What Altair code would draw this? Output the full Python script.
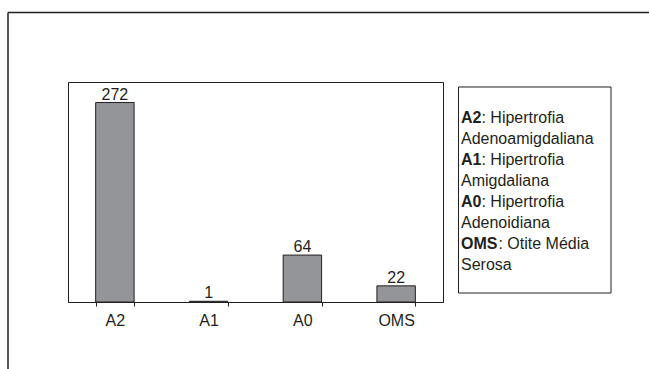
import altair as alt
import pandas as pd

# ---- data ----
categories = ["A2", "A1", "A0", "OMS"]
counts = [272, 1, 64, 22]

legend_codes = ["A2", "A1", "A0", "OMS"]
legend_first = [": Hipertrofia", ": Hipertrofia", ": Hipertrofia", ": Otite Média"]
legend_second = ["Adenoamigdaliana", "Amigdaliana", "Adenoidiana", "Serosa"]

# ---- layout constants (pixels, relative to plot area) ----
FONT = "Liberation Sans"
FS = 16
INK = "#231f20"
W, H = 375, 220
PAD = {"left": 68, "top": 82, "right": 649 - 68 - W, "bottom": 369 - 82 - H}

# Approximate Arial bold advance widths (em) for offsetting the normal text
BOLD_W = {"A": 0.722, "0": 0.556, "1": 0.556, "2": 0.556, "O": 0.778, "M": 0.833, "S": 0.667}


def bold_width(s):
    return sum(BOLD_W.get(c, 0.6) for c in s) * FS


bars_df = pd.DataFrame({"cat": categories, "n": counts})

rows = []
lx = 393
for i, (code, first, second) in enumerate(zip(legend_codes, legend_first, legend_second)):
    rows.append({"line": 2 * i, "txt": code, "bold": True, "xoff": 0})
    rows.append({"line": 2 * i, "txt": first, "bold": False,
                 "xoff": bold_width(code) + (1 if len(code) > 2 else 0)})
    rows.append({"line": 2 * i + 1, "txt": second, "bold": False, "xoff": 0})
leg_df = pd.DataFrame(rows)

xenc = alt.X(
    "cat:N",
    sort=categories,
    title=None,
    scale=alt.Scale(paddingInner=0.59, paddingOuter=0.295),
    axis=alt.Axis(labelAngle=0, labelFont=FONT, labelFontSize=FS, labelColor=INK,
                  tickBand="extent", tickSize=4, tickColor=INK, domainColor=INK,
                  labelPadding=6, grid=False),
)
yenc = alt.Y("n:Q", scale=alt.Scale(domain=[0, 300], nice=False), axis=None)

bars = alt.Chart(bars_df).mark_bar(
    fill="#939598", stroke=INK, strokeWidth=1
).encode(x=xenc, y=yenc)

labels = alt.Chart(bars_df).mark_text(
    baseline="alphabetic", dy=-3, font=FONT, fontSize=FS, color=INK
).encode(x=xenc, y=yenc, text="n:Q")

main = alt.layer(bars, labels)

one = alt.Data(values=[{"k": 1}])

frame_top = alt.Chart(one).mark_rule(color=INK, strokeWidth=1.5).encode(
    x=alt.value(-60), x2=alt.value(700), y=alt.value(-69.5)
)
frame_left = alt.Chart(one).mark_rule(color=INK, strokeWidth=1.5).encode(
    x=alt.value(-60), y=alt.value(-69.5), y2=alt.value(400)
)
leg_box = alt.Chart(one).mark_rect(
    fill="white", stroke=INK, strokeWidth=1
).encode(
    x=alt.value(390.5), x2=alt.value(543), y=alt.value(5), y2=alt.value(211)
)

leg_base = alt.Chart(leg_df).transform_calculate(
    px=f"{lx} + datum.xoff",
    py="41 + 21 * datum.line",
)
leg_bold = leg_base.transform_filter("datum.bold").mark_text(
    align="left", baseline="alphabetic", font=FONT, fontSize=FS, fontWeight="bold", color=INK
).encode(
    x=alt.X("px:Q", scale=None, axis=None),
    y=alt.Y("py:Q", scale=None, axis=None),
    text="txt:N",
)
leg_norm = leg_base.transform_filter("!datum.bold").mark_text(
    align="left", baseline="alphabetic", font=FONT, fontSize=FS, color=INK
).encode(
    x=alt.X("px:Q", scale=None, axis=None),
    y=alt.Y("py:Q", scale=None, axis=None),
    text="txt:N",
)

chart = alt.layer(
    main, frame_top, frame_left, leg_box, leg_bold, leg_norm
).resolve_scale(x="independent", y="independent").properties(
    width=W, height=H, padding=PAD,
    autosize=alt.AutoSizeParams(type="none"),
    background="white",
).configure_view(stroke=INK, strokeWidth=1)

chart.save("out.html", embed_options={"renderer": "svg", "actions": False})
